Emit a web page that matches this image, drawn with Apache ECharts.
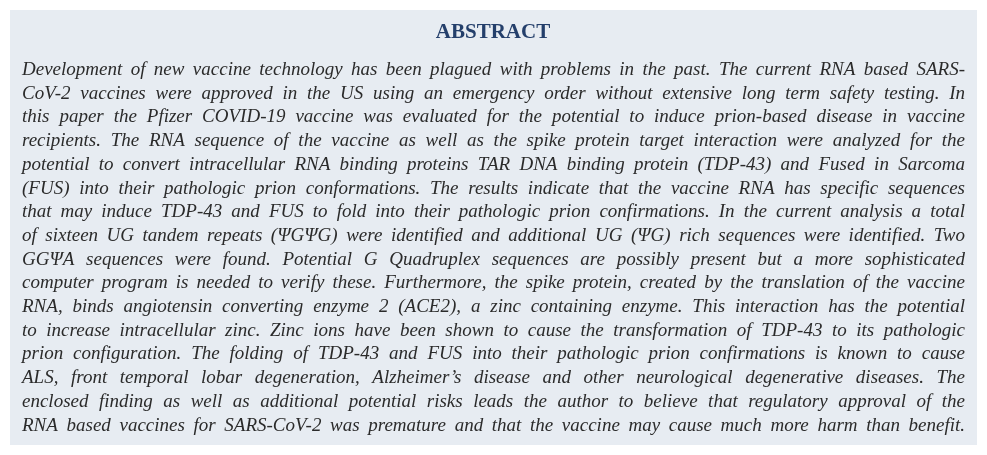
<!DOCTYPE html>
<html>
<head>
<meta charset="utf-8">
<script src="https://cdn.jsdelivr.net/npm/echarts@6/dist/echarts.min.js"></script>
<style>html,body{margin:0;padding:0;background:#fff}#main{width:987px;height:455px}</style>
</head>
<body>
<div id="main"></div>
<script>
const title = 'ABSTRACT'
const lines = [
  'Development of new vaccine technology has been plagued with problems in the past. The current RNA based SARS-',
  'CoV-2 vaccines were approved in the US using an emergency order without extensive long term safety testing. In',
  'this paper the Pfizer COVID-19 vaccine was evaluated for the potential to induce prion-based disease in vaccine',
  'recipients. The RNA sequence of the vaccine as well as the spike protein target interaction were analyzed for the',
  'potential to convert intracellular RNA binding proteins TAR DNA binding protein (TDP-43) and Fused in Sarcoma',
  '(FUS) into their pathologic prion conformations. The results indicate that the vaccine RNA has specific sequences',
  'that may induce TDP-43 and FUS to fold into their pathologic prion confirmations. In the current analysis a total',
  'of sixteen UG tandem repeats (ΨGΨG) were identified and additional UG (ΨG) rich sequences were identified. Two',
  'GGΨA sequences were found. Potential G Quadruplex sequences are possibly present but a more sophisticated',
  'computer program is needed to verify these. Furthermore, the spike protein, created by the translation of the vaccine',
  'RNA, binds angiotensin converting enzyme 2 (ACE2), a zinc containing enzyme. This interaction has the potential',
  'to increase intracellular zinc. Zinc ions have been shown to cause the transformation of TDP-43 to its pathologic',
  'prion configuration. The folding of TDP-43 and FUS into their pathologic prion confirmations is known to cause',
  'ALS, front temporal lobar degeneration, Alzheimer\u2019s disease and other neurological degenerative diseases. The',
  'enclosed finding as well as additional potential risks leads the author to believe that regulatory approval of the',
  'RNA based vaccines for SARS-CoV-2 was premature and that the vaccine may cause much more harm than benefit.'
]

const chart = echarts.init(document.getElementById('main'))
const fontSize = 19
const fontFamily = '"Liberation Serif", "DejaVu Serif", serif'
const ctx = document.createElement('canvas').getContext('2d')
ctx.font = 'italic ' + fontSize + 'px ' + fontFamily

// justify each line by spreading the words across the box width
const left = 22, right = 965, top0 = 70, lineH = 23.7
const elements = [
  { type: 'rect', shape: { x: 10, y: 10, width: 967, height: 435 }, style: { fill: '#e7ecf2' } },
  { type: 'text', x: 493, y: 33, style: { text: title, fill: '#243f6b', font: 'bold 21px ' + fontFamily, align: 'center', verticalAlign: 'middle' } }
]
lines.forEach(function (line, i) {
  const words = line.split(' ')
  const widths = words.map(w => ctx.measureText(w).width)
  const total = widths.reduce((a, b) => a + b, 0)
  const gap = (right - left - total) / (words.length - 1)
  let x = left
  words.forEach(function (w, j) {
    elements.push({ type: 'text', x: x, y: top0 + i * lineH, style: { text: w, fill: '#2b2b2b', font: 'italic ' + fontSize + 'px ' + fontFamily, verticalAlign: 'middle' } })
    x += widths[j] + gap
  })
})
chart.setOption({ animation: false, graphic: { elements: elements } })
</script>
</body>
</html>
